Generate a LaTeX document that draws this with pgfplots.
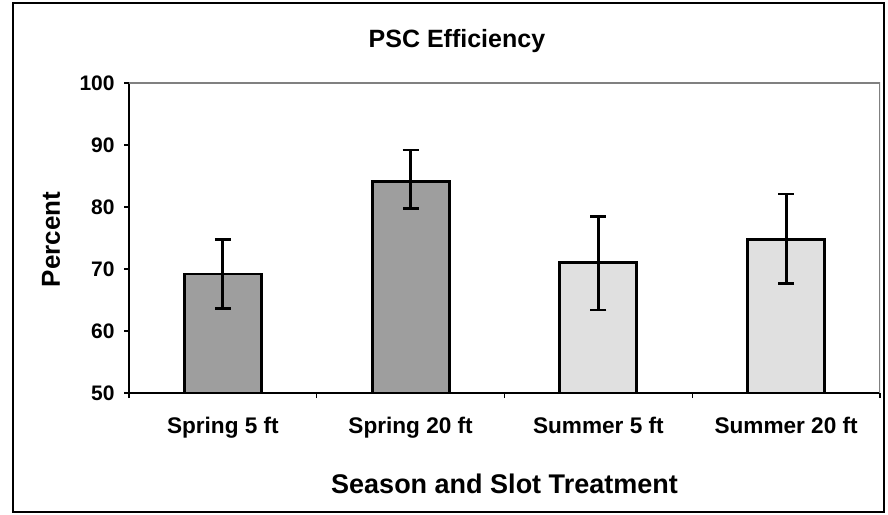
\documentclass[border=0pt]{standalone}
\usepackage{fontspec}
\setmainfont{Liberation Sans}
\usepackage{pgfplots}
\pgfplotsset{compat=1.18}
\usepackage{pgfplotstable}

\pgfplotstableread{
x y ep em
1 69.2 5.5 5.6
2 84.1 5.1 4.4
}\springdata
\pgfplotstableread{
x y ep em
3 71.1 7.4 7.7
4 74.8 7.3 7.2
}\summerdata

\begin{document}
\begin{tikzpicture}
\useasboundingbox (0,0) rectangle (444pt,257pt);
\draw[line width=1pt] (6.35pt,1pt) rectangle (442pt,255.5pt);
\begin{axis}[
  at={(64.5pt,60.5pt)}, anchor=south west,
  scale only axis, width=375.5pt, height=155pt,
  xmin=0.5, xmax=4.5, ymin=50, ymax=100,
  axis x line*=bottom, axis y line*=left,
  axis line style={black, line width=0.8pt, -},
  tick align=outside,
  major tick length=2.5pt,
  tick style={black, line width=0.6pt},
  ytick={50,60,...,100},
  /pgf/number format/assume math mode=true,
  yticklabel style={font=\fontsize{10.5}{12}\selectfont\bfseries, inner sep=0pt, anchor=east, xshift=-4.5pt},
  xtick={0.5,1.5,...,4.5},
  xticklabels={},
  extra x ticks={1,2,3,4},
  extra x tick labels={Spring 5 ft, Spring 20 ft, Summer 5 ft, Summer 20 ft},
  extra x tick style={major tick length=0pt},
  xticklabel style={font=\fontsize{11.3}{13}\selectfont\bfseries, anchor=base, yshift=-20pt},
  every axis title shift=0pt,
  title={PSC Efficiency},
  title style={at={(axis description cs:0.4367,1.1129)}, anchor=base, font=\fontsize{12.5}{15}\selectfont\bfseries},
  xlabel={Season and Slot Treatment},
  xlabel style={at={(axis description cs:0.5,-0.3226)}, anchor=base, font=\fontsize{13.5}{16}\selectfont\bfseries},
  ylabel={Percent},
  ylabel style={at={(axis description cs:-0.0919,0.495)}, anchor=base, font=\fontsize{13}{15}\selectfont\bfseries},
  clip=true,
]
\addplot[ybar, bar width=0.41, bar shift=0pt, fill=black!38, draw=black, line width=1.4pt,
  error bars/.cd, y dir=both, y explicit,
  error bar style={line width=1.4pt, black},
  error mark options={rotate=90, mark size=4pt, line width=1.4pt, black}]
  table[x=x, y=y, y error plus=ep, y error minus=em]{\springdata};
\addplot[ybar, bar width=0.41, bar shift=0pt, fill=black!12, draw=black, line width=1.4pt,
  error bars/.cd, y dir=both, y explicit,
  error bar style={line width=1.4pt, black},
  error mark options={rotate=90, mark size=4pt, line width=1.4pt, black}]
  table[x=x, y=y, y error plus=ep, y error minus=em]{\summerdata};
\draw[gray, line width=0.6pt] (rel axis cs:0,1) -- (rel axis cs:1,1) -- (rel axis cs:1,0);
\end{axis}
\end{tikzpicture}
\end{document}
